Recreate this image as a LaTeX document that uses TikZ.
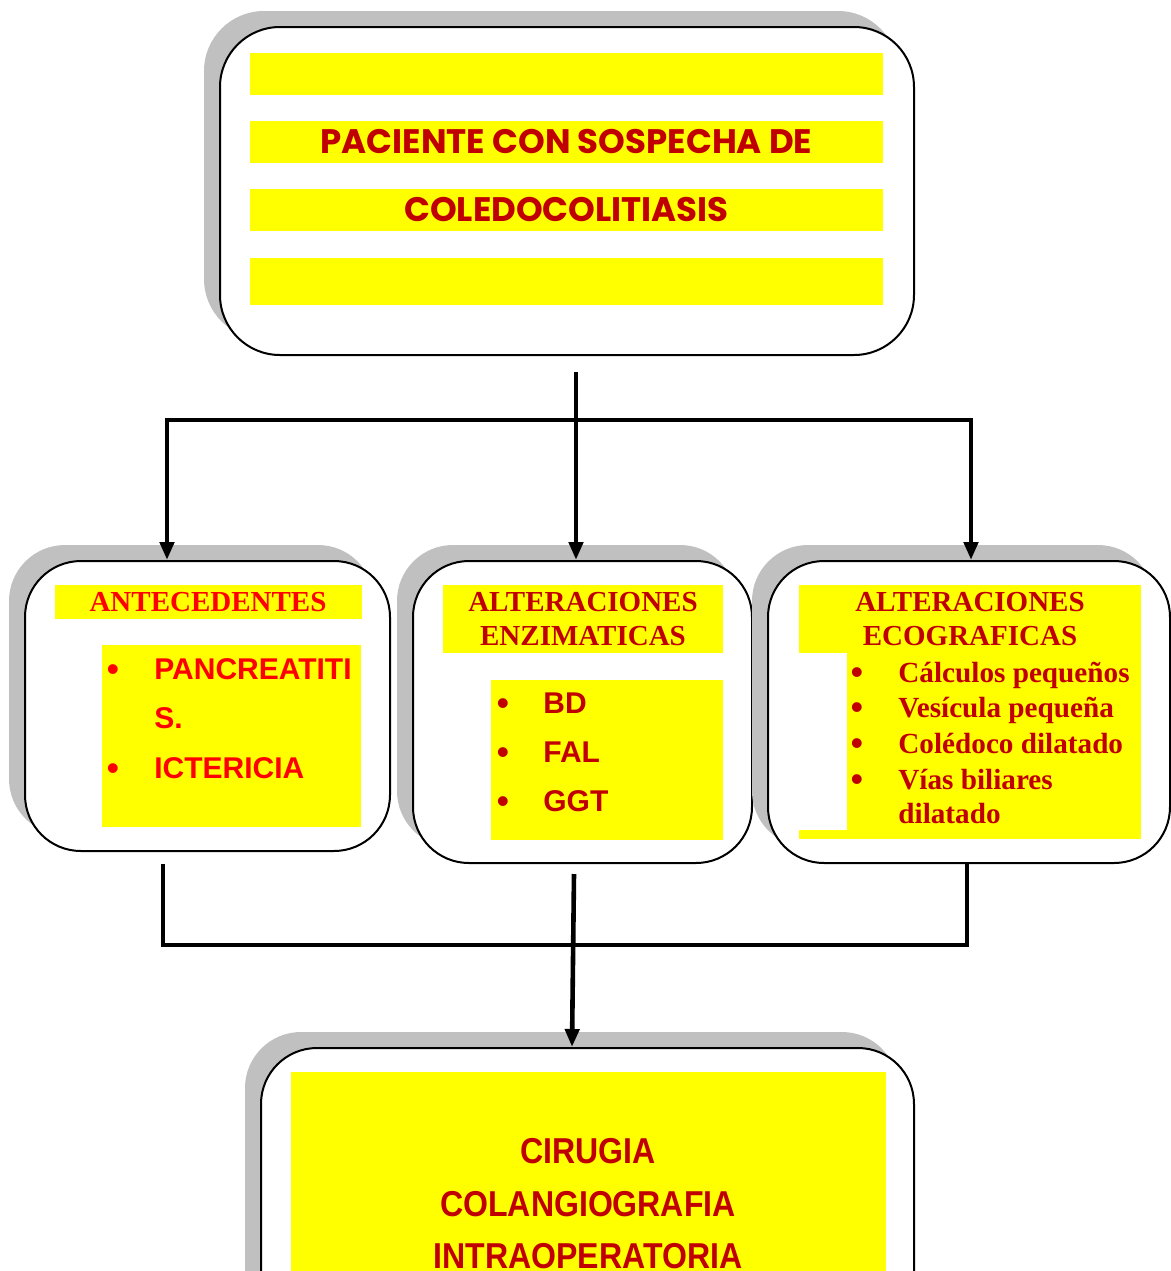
\documentclass[tikz,border=0pt]{standalone}
\usepackage{fontspec}
\usepackage{xcolor}
\usetikzlibrary{arrows.meta,shadows,calc,positioning}

\setmainfont{Liberation Serif}
\newfontfamily\arialfont{Liberation Sans}
\newfontfamily\narrowfont{Liberation Sans}[FakeStretch=0.89]
\newfontfamily\decofont{Poppins}

\definecolor{darkred}{HTML}{C00000}
\definecolor{brightred}{HTML}{FF0000}
\definecolor{band}{HTML}{FFFF00}
\definecolor{shadowgray}{HTML}{C0C0C0}

\tikzset{
  card/.style={draw=black, line width=1pt, fill=white, rounded corners=28pt,
    drop shadow={shadow xshift=-8pt, shadow yshift=8pt, fill=shadowgray, opacity=1}},
  bar/.style={fill=band, inner sep=0pt},
  item/.style={anchor=base west, inner sep=0pt},
  dot/.style={anchor=base, inner sep=0pt, font=\arialfont\fontsize{18}{18}\selectfont},
  flow/.style={line width=2.3pt, -{Triangle[length=9pt,width=7pt]}},
  bus/.style={line width=2.3pt, line cap=rect},
}

\begin{document}
\begin{tikzpicture}[x=0.5pt, y=-0.5pt]
  \useasboundingbox (0,0) rectangle (1171,1271);
  \clip (0,0) rectangle (1171,1271);

  % --- 1. Top box: suspected patient ---
  \node[card, rounded corners=30pt, minimum width=347pt, minimum height=164pt] (patient) at (567,191) {};
  \node[bar, minimum width=316.5pt, minimum height=21pt] (bar1) at (566.5,74) {};
  \node[bar, minimum width=316.5pt, minimum height=21pt, text=darkred,
        font=\decofont\bfseries\fontsize{17}{20}\selectfont] (bar2) at (566.5,142) {PACIENTE CON SOSPECHA DE};
  \node[bar, minimum width=316.5pt, minimum height=21pt, text=darkred,
        font=\decofont\bfseries\fontsize{17}{20}\selectfont] (bar3) at (566.5,210) {COLEDOCOLITIASIS};
  \node[bar, minimum width=316.5pt, minimum height=23.5pt] (bar4) at (566.5,281.5) {};

  % --- 2. Antecedentes ---
  \node[card, minimum width=182.5pt, minimum height=145pt] (history) at (207.5,706) {};
  \node[bar, minimum width=153.5pt, minimum height=17pt, text=brightred,
        font=\bfseries\fontsize{14.5}{17}\selectfont] (historyhead) at (208,602) {ANTECEDENTES};
  \node[bar, minimum width=129.5pt, minimum height=91pt] (historylist) at (231.5,736) {};
  \begin{scope}[text=brightred, font=\arialfont\bfseries\fontsize{15}{18}\selectfont]
    \node[dot] (hdot1) at (113,681) {\textbullet};
    \node[item] (hitem1) at (154,679) {PANCREATITI};
    \node[item] (hitem2) at (154,728) {S.};
    \node[dot] (hdot2) at (113,780) {\textbullet};
    \node[item] (hitem3) at (154,778) {ICTERICIA};
  \end{scope}

  % --- 3. Alteraciones enzimaticas ---
  \node[card, minimum width=169.5pt, minimum height=151pt] (enzymes) at (582.5,712) {};
  \node[bar, minimum width=140pt, minimum height=34pt, align=center, text=darkred,
        font=\bfseries\fontsize{14.5}{17}\selectfont] (enzymeshead) at (583,619) {ALTERACIONES\\ENZIMATICAS};
  \node[bar, minimum width=116pt, minimum height=80pt] (enzymeslist) at (607,760) {};
  \begin{scope}[text=darkred, font=\arialfont\bfseries\fontsize{15}{18}\selectfont]
    \node[dot] (edot1) at (503,715) {\textbullet};
    \node[item] (eitem1) at (543,713) {BD};
    \node[dot] (edot2) at (503,764) {\textbullet};
    \node[item] (eitem2) at (543,762) {FAL};
    \node[dot] (edot3) at (503,813) {\textbullet};
    \node[item] (eitem3) at (543,811) {GGT};
  \end{scope}

  % --- 4. Alteraciones ecograficas ---
  \node[card, minimum width=201pt, minimum height=151pt] (echo) at (969,712) {};
  \node[bar, minimum width=171pt, minimum height=34pt, align=center, text=darkred,
        font=\bfseries\fontsize{14.5}{17}\selectfont] (echohead) at (970,619) {ALTERACIONES\\ECOGRAFICAS};
  \node[bar, minimum width=147pt, minimum height=93pt] (echolist) at (994,746) {};
  \node[bar, minimum width=24pt, minimum height=4.5pt] (echostrip) at (823,834.5) {};
  \begin{scope}[text=darkred, font=\bfseries\fontsize{14.6}{18}\selectfont]
    \node[dot] (udot1) at (857,684) {\textbullet};
    \node[item] (uitem1) at (898,682) {Cálculos pequeños};
    \node[dot] (udot2) at (857,719) {\textbullet};
    \node[item] (uitem2) at (898,717) {Vesícula pequeña};
    \node[dot] (udot3) at (857,755) {\textbullet};
    \node[item] (uitem3) at (898,753) {Colédoco dilatado};
    \node[dot] (udot4) at (857,791) {\textbullet};
    \node[item] (uitem4) at (898,789) {Vías biliares};
    \node[item] (uitem5) at (898,823) {dilatado};
  \end{scope}

  % --- 5. Cirugia ---
  \node[card, minimum width=326.5pt, minimum height=176pt] (surgery) at (587.5,1224) {};
  \node[bar, minimum width=297.5pt, minimum height=164pt] (surgerybar) at (588.5,1236) {};
  \begin{scope}[text=darkred, font=\narrowfont\bfseries\fontsize{18}{21}\selectfont]
    \node[anchor=base, inner sep=0pt] (sline1) at (588,1163) {CIRUGIA};
    \node[anchor=base, inner sep=0pt] (sline2) at (588,1216) {COLANGIOGRAFIA};
    \node[anchor=base, inner sep=0pt] (sline3) at (588,1268) {INTRAOPERATORIA};
  \end{scope}

  % --- 6. Connectors ---
  \coordinate (hub) at (576,420);
  \coordinate (leftdrop) at (167,420);
  \coordinate (rightdrop) at (971,420);
  \draw[bus] (leftdrop) -- (rightdrop);
  \draw[flow] ($(patient.south -| hub)+(0,16)$) -- (hub |- enzymes.north);
  \draw[flow] (leftdrop) -- (leftdrop |- history.north);
  \draw[flow] (rightdrop) -- (rightdrop |- echo.north);

  \coordinate (joinL) at (163,945);
  \coordinate (joinR) at (967,945);
  \draw[bus] ($(history.south -| joinL)+(0,14)$) -- (joinL) -- (joinR) -- ($(echo.south -| joinR)+(0,2)$);
  \draw[flow] ($(enzymes.south)+(-8.5,10)$) -- ($(surgery.north)+(-15.5,0)$);

\end{tikzpicture}
\end{document}
